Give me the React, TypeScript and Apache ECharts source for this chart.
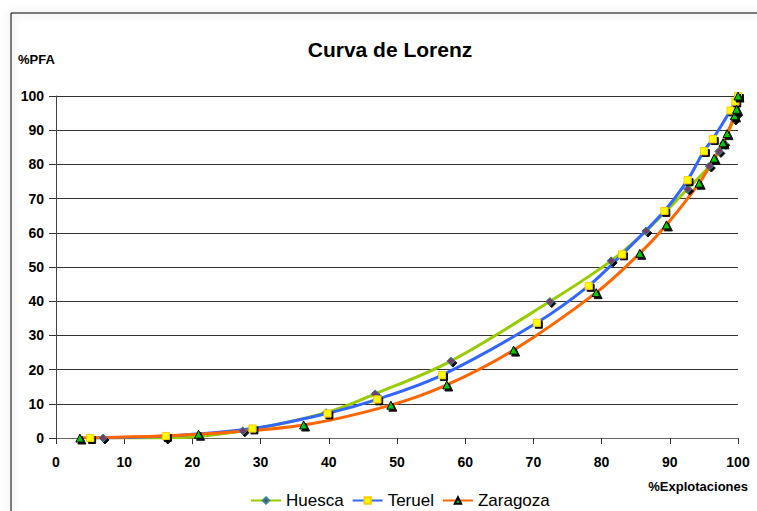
import React, { useEffect, useRef } from "react";
import * as echarts from "echarts";

const title = "Curva de Lorenz";
const yName = "%PFA";
const xName = "%Explotaciones";
const seriesNames = ["Huesca", "Teruel", "Zaragoza"];

const huesca: [number, number][] = [
  [6.9, 0], [16.1, 0], [27.4, 2.1], [39.6, 7.4], [46.8, 12.9], [57.9, 22.5],
  [72.4, 39.9], [81.4, 51.8], [86.5, 60.5], [92.6, 72.8], [95.8, 79.5],
  [97.2, 83.8], [97.9, 86.2], [99.4, 93.3], [99.7, 94.8], [100, 100],
];
const teruel: [number, number][] = [
  [5.0, 0], [16.1, 0.6], [28.8, 2.8], [39.8, 7.2], [47.1, 11.3], [56.6, 18.4],
  [70.5, 33.7], [78.1, 44.5], [83.0, 53.7], [89.2, 66.4], [92.6, 75.4],
  [95.0, 83.9], [96.3, 87.4], [98.9, 95.8], [99.6, 98.4], [100, 100],
];
const zaragoza: [number, number][] = [
  [3.5, 0], [20.9, 1.1], [36.3, 3.8], [49.1, 9.6], [57.3, 15.5], [67.1, 25.7],
  [79.2, 42.5], [85.6, 54.0], [89.5, 62.3], [94.3, 74.5], [96.5, 81.8],
  [97.8, 86.3], [98.4, 89.0], [99.5, 94.2], [99.8, 96.1], [100, 100],
];

const FONT = "'Liberation Sans', Arial, sans-serif";

export default function App() {
  const ref = useRef<HTMLDivElement>(null);
  useEffect(() => {
    if (!ref.current) return;
    const chart = echarts.init(ref.current, undefined, { renderer: "svg" });
    const shadow = {
      shadowColor: "rgba(0,0,0,0.95)",
      shadowOffsetX: 2,
      shadowOffsetY: 2,
      shadowBlur: 1,
    };
    const mk = (
      name: string,
      data: [number, number][],
      lineColor: string,
      symbol: string,
      size: number,
      fill: string,
      border: string
    ) => ({
      name,
      type: "line",
      data,
      smooth: 0.35,
      symbol,
      symbolSize: size,
      showSymbol: true,
      color: lineColor,
      lineStyle: { color: lineColor, width: 3 },
      itemStyle: { color: fill, borderColor: border, borderWidth: 1, ...shadow },
      emphasis: { disabled: true },
    });
    chart.setOption({
      animation: false,
      backgroundColor: "#ffffff",
      textStyle: { fontFamily: FONT },
      title: {
        text: title,
        left: 385,
        textAlign: "center",
        top: 34,
        textStyle: { fontSize: 21, fontWeight: "bold", color: "#000", fontFamily: FONT },
      },
      graphic: [
        {
          type: "rect",
          shape: { x: 11, y: 13, width: 780, height: 540 },
          style: {
            fill: "none",
            stroke: "#000",
            lineWidth: 1,
            shadowColor: "rgba(0,0,0,0.35)",
            shadowBlur: 8,
          },
          z: -1,
        },
        {
          type: "text",
          left: 18,
          top: 53,
          style: { text: yName, fontSize: 13, fontWeight: "bold", fill: "#000", fontFamily: FONT },
        },
        {
          type: "text",
          right: 9,
          top: 480,
          style: { text: xName, fontSize: 13, fontWeight: "bold", fill: "#000", fontFamily: FONT },
        },
      ],
      legend: {
        left: 245,
        top: 487,
        itemWidth: 30,
        itemHeight: 8,
        itemGap: 8,
        textStyle: { fontSize: 17, color: "#000", fontFamily: FONT },
        data: seriesNames,
      },
      grid: { left: 56, right: 19, top: 96, bottom: 73 },
      xAxis: {
        type: "value",
        min: 0,
        max: 100,
        interval: 10,
        axisLine: { show: true, lineStyle: { color: "#666", width: 1 } },
        axisTick: { show: true, length: 6, lineStyle: { color: "#333" } },
        splitLine: { show: false },
        axisLabel: { fontSize: 14, fontWeight: "bold", color: "#000", margin: 17, fontFamily: FONT },
      },
      yAxis: {
        type: "value",
        min: 0,
        max: 100,
        interval: 10,
        axisLine: { show: true, lineStyle: { color: "#444", width: 1 } },
        axisTick: { show: true, length: 7, lineStyle: { color: "#333" } },
        splitLine: { show: true, lineStyle: { color: "#333", width: 1 } },
        axisLabel: { fontSize: 14, fontWeight: "bold", color: "#000", margin: 12, fontFamily: FONT },
      },
      series: [
        mk(seriesNames[0], huesca, "#99CC00", "diamond", 8, "#7a3b6b", "#2e8b8b"),
        mk(seriesNames[1], teruel, "#3366FF", "rect", 7, "#FFFF00", "#FFCC00"),
        mk(seriesNames[2], zaragoza, "#FF6600", "triangle", 8, "#00CC00", "#000000"),
      ],
    });
    return () => chart.dispose();
  }, []);
  return (
    <div
      ref={ref}
      style={{ position: "fixed", left: 0, top: 0, width: 757, height: 511 }}
    />
  );
}
